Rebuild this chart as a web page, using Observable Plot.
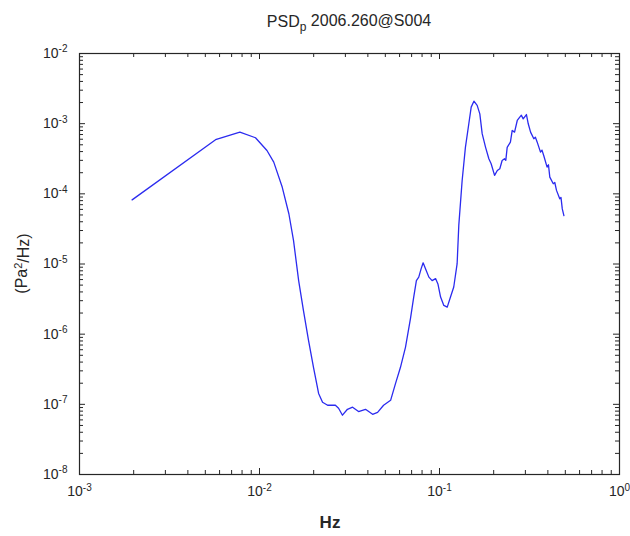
<!DOCTYPE html>
<html><head><meta charset="utf-8">
<script src="https://cdn.jsdelivr.net/npm/d3@7"></script>
<script src="https://cdn.jsdelivr.net/npm/@observablehq/plot@0.6"></script>
<style>
body{margin:0;background:#fff}
svg{font-family:"Liberation Sans",Arial,Helvetica,sans-serif}
</style>
</head><body><div id="chart"></div>
<script>
// Frequency (Hz) and PSD (Pa^2/Hz)
const freq = [0.00196,0.0057,0.00778,0.0095,0.0110,0.0120,0.01337,0.01456,0.01545,0.0165,
  0.01754,0.01871,0.01995,0.0213,0.0224,0.0239,0.0264,0.0275,0.0289,0.0308,
  0.0329,0.0355,0.0388,0.0425,0.0453,0.0489,0.0535,0.0570,0.0607,0.0647,
  0.0690,0.0719,0.0744,0.0767,0.0791,0.0811,0.0835,0.0873,0.0910,0.0951,
  0.0980,0.1014,0.1057,0.1104,0.1151,0.1200,0.1253,0.128,0.1336,0.1393,
  0.1455,0.150,0.1553,0.1619,0.1675,0.1726,0.1803,0.188,0.1936,0.2023,
  0.2095,0.2163,0.2228,0.2296,0.2335,0.2377,0.2477,0.2535,0.2612,0.2704,0.2792,0.285,
  0.2917,0.3041,0.3112,0.3206,0.3342,0.341,0.349,0.364,0.371,0.3793,0.396,0.403,0.410,
  0.4286,0.437,0.4467,0.4656,0.473,0.481,0.491];
const psd = [8.2e-5,5.9e-4,7.57e-4,6.3e-4,4.15e-4,2.83e-4,1.25e-4,5.2e-5,2.17e-5,5.8e-6,
  2.18e-6,8.2e-7,3.37e-7,1.43e-7,1.07e-7,9.7e-8,9.7e-8,8.8e-8,7.0e-8,8.5e-8,
  9.1e-8,7.9e-8,8.5e-8,7.2e-8,7.7e-8,9.7e-8,1.14e-7,1.99e-7,3.37e-7,6.5e-7,
  1.68e-6,3.38e-6,5.8e-6,6.5e-6,8.6e-6,1.04e-5,8.6e-6,6.5e-6,5.8e-6,6.2e-6,
  5.2e-6,3.38e-6,2.57e-6,2.43e-6,3.38e-6,4.7e-6,1.01e-5,3.55e-5,1.55e-4,4.6e-4,
  9.97e-4,1.72e-3,2.09e-3,1.82e-3,1.38e-3,7.2e-4,4.6e-4,3.16e-4,2.68e-4,1.83e-4,
  2.15e-4,2.28e-4,2.99e-4,3.16e-4,3.0e-4,4.6e-4,5.45e-4,8.0e-4,7.57e-4,1.11e-3,1.24e-3,1.32e-3,
  1.17e-3,1.35e-3,9.97e-4,7.57e-4,6.1e-4,6.4e-4,5.45e-4,3.93e-4,4.2e-4,3.52e-4,2.4e-4,2.6e-4,1.73e-4,
  1.39e-4,1.45e-4,1.12e-4,8.5e-5,8.9e-5,6.1e-5,4.9e-5];

const xDecades = [1e-3, 1e-2, 1e-1, 1];
const yDecades = [1e-8, 1e-7, 1e-6, 1e-5, 1e-4, 1e-3, 1e-2];
const minorMult = [2, 3, 4, 5, 6, 7, 8, 9];
const xMinor = xDecades.slice(0, -1).flatMap(d => minorMult.map(m => d * m));
const yMinor = yDecades.slice(0, -1).flatMap(d => minorMult.map(m => d * m));

const titleMain = "PSD", titleSub = "p", titleRest = " 2006.260@S004";
const yLabel = "(Pa", yLabelSup = "2", yLabelRest = "/Hz)";
const xLabel = "Hz";

const data = freq.map((f, i) => ({f, p: psd[i]}));

const W = 630, H = 536, mL = 79, mR = 11, mT = 53, mB = 62;
const fw = W - mL - mR, fh = H - mT - mB;
const ink = "#262626";
const expo = d => String(Math.round(Math.log10(d)));

const plot = Plot.plot({
  width: W, height: H,
  marginLeft: mL, marginRight: mR, marginTop: mT, marginBottom: mB,
  style: {fontFamily: '"Liberation Sans",Arial,sans-serif', fontSize: "14px", color: ink, background: "#fff", overflow: "visible"},
  x: {type: "log", domain: [1e-3, 1]},
  y: {type: "log", domain: [1e-8, 1e-2]},
  marks: [
    Plot.axisX(xDecades, {tickSize: 0, tickPadding: 12, tickFormat: expo, label: null, fontSize: 14}),
    Plot.axisY(yDecades, {tickSize: 0, tickPadding: 12, tickFormat: expo, label: null, fontSize: 14}),
    Plot.line(data, {x: "f", y: "p", stroke: "#2b2bef", strokeWidth: 1.3}),
    Plot.frame({stroke: ink, strokeWidth: 1.2}),
    // inward ticks on all four sides
    Plot.ruleX(xMinor, {insetTop: fh - 4, stroke: ink}),
    Plot.ruleX(xDecades, {insetTop: fh - 6, stroke: ink}),
    Plot.ruleX(xMinor, {insetBottom: fh - 4, stroke: ink}),
    Plot.ruleX(xDecades, {insetBottom: fh - 6, stroke: ink}),
    Plot.ruleY(yMinor, {insetRight: fw - 4, stroke: ink}),
    Plot.ruleY(yDecades, {insetRight: fw - 6, stroke: ink}),
    Plot.ruleY(yMinor, {insetLeft: fw - 4, stroke: ink}),
    Plot.ruleY(yDecades, {insetLeft: fw - 6, stroke: ink})
  ]
});
document.getElementById("chart").appendChild(plot);

const svg = d3.select(plot);
// superscript exponents: "10" + exponent
svg.selectAll('g[aria-label="x-axis tick label"] text, g[aria-label="y-axis tick label"] text').each(function() {
  const e = this.textContent;
  const t = d3.select(this);
  t.text("10");
  t.append("tspan").attr("dy", "-0.55em").attr("font-size", "10px").text(e);
});

// title
const title = svg.append("text")
  .attr("x", mL + fw / 2).attr("y", 27)
  .attr("text-anchor", "middle").attr("font-size", "16px").attr("fill", ink);
title.append("tspan").text(titleMain);
title.append("tspan").attr("dy", "0.35em").attr("font-size", "12px").text(titleSub);
title.append("tspan").attr("dy", "-0.35em").text(titleRest);

// y label
const yl = svg.append("text")
  .attr("transform", `translate(27,${mT + fh / 2}) rotate(-90)`)
  .attr("text-anchor", "middle").attr("font-size", "16px").attr("fill", ink);
yl.append("tspan").text(yLabel);
yl.append("tspan").attr("dy", "-0.45em").attr("font-size", "11px").text(yLabelSup);
yl.append("tspan").attr("dy", "0.45em").text(yLabelRest);

// x label
svg.append("text")
  .attr("x", 330).attr("y", 528)
  .attr("text-anchor", "middle").attr("font-size", "17px").attr("font-weight", "bold").attr("fill", ink)
  .text(xLabel);
</script>
</body></html>
